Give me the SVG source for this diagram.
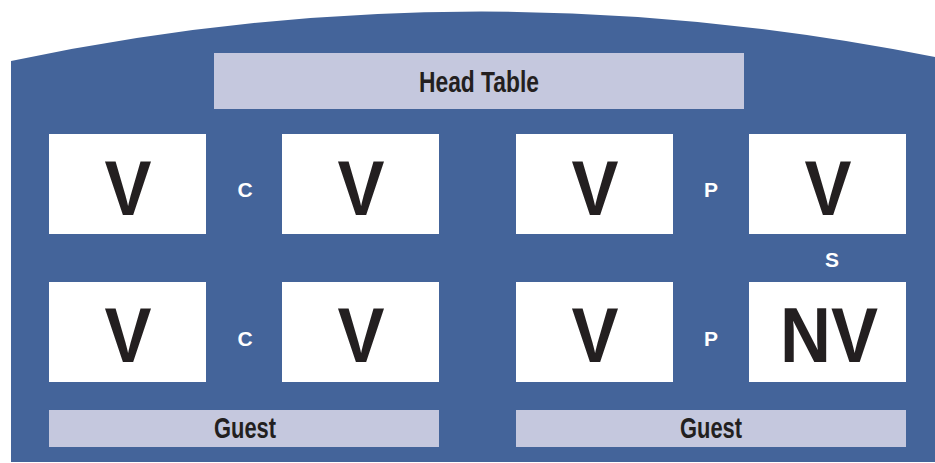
<svg xmlns="http://www.w3.org/2000/svg" width="935" height="463" viewBox="0 0 935 463">
<style>
.bar{fill:#c5c8de}
.seat{fill:#ffffff}
.lbl{font-family:"Liberation Sans",Arial,sans-serif;font-weight:bold;fill:#231f20;text-anchor:middle}
.big{font-family:"Liberation Sans",Arial,sans-serif;font-weight:bold;fill:#231f20;text-anchor:middle;font-size:77px}
.sm{font-family:"Liberation Sans",Arial,sans-serif;font-weight:bold;fill:#ffffff;text-anchor:middle;font-size:21px}
</style>
<rect width="935" height="463" fill="#ffffff"/>
<path id="room" d="M 11 61 Q 470 -36 935 57 L 935 462 L 11 462 Z" fill="#44649a"/>
<g id="head-table"><rect class="bar" x="214" y="53" width="530" height="56"/><text class="lbl" x="479" y="92" font-size="30" textLength="120" lengthAdjust="spacingAndGlyphs">Head Table</text></g>
<g id="t1"><rect class="seat" x="49" y="134" width="157" height="100"/><text class="big" x="128" y="215" textLength="47" lengthAdjust="spacingAndGlyphs">V</text></g>
<g id="t2"><rect class="seat" x="282" y="134" width="157" height="100"/><text class="big" x="361" y="215" textLength="47" lengthAdjust="spacingAndGlyphs">V</text></g>
<g id="t3"><rect class="seat" x="516" y="134" width="157" height="100"/><text class="big" x="595" y="215" textLength="47" lengthAdjust="spacingAndGlyphs">V</text></g>
<g id="t4"><rect class="seat" x="749" y="134" width="157" height="100"/><text class="big" x="828" y="215" textLength="47" lengthAdjust="spacingAndGlyphs">V</text></g>
<g id="t5"><rect class="seat" x="49" y="282" width="157" height="100"/><text class="big" x="128" y="362" textLength="47" lengthAdjust="spacingAndGlyphs">V</text></g>
<g id="t6"><rect class="seat" x="282" y="282" width="157" height="100"/><text class="big" x="361" y="362" textLength="47" lengthAdjust="spacingAndGlyphs">V</text></g>
<g id="t7"><rect class="seat" x="516" y="282" width="157" height="100"/><text class="big" x="595" y="362" textLength="47" lengthAdjust="spacingAndGlyphs">V</text></g>
<g id="t8"><rect class="seat" x="749" y="282" width="157" height="100"/><text class="big" x="829" y="362" textLength="98" lengthAdjust="spacingAndGlyphs">NV</text></g>
<g id="guest-left"><rect class="bar" x="49" y="410" width="390" height="37"/><text class="lbl" x="245" y="438" font-size="30" textLength="62" lengthAdjust="spacingAndGlyphs">Guest</text></g>
<g id="guest-right"><rect class="bar" x="516" y="410" width="390" height="37"/><text class="lbl" x="711" y="438" font-size="30" textLength="62" lengthAdjust="spacingAndGlyphs">Guest</text></g>
<g id="labels">
<text class="sm" x="245" y="197">C</text>
<text class="sm" x="245" y="346">C</text>
<text class="sm" x="711" y="197">P</text>
<text class="sm" x="711" y="346">P</text>
<text class="sm" x="832" y="267">S</text>
</g>
<g id="connectors"/>
</svg>
